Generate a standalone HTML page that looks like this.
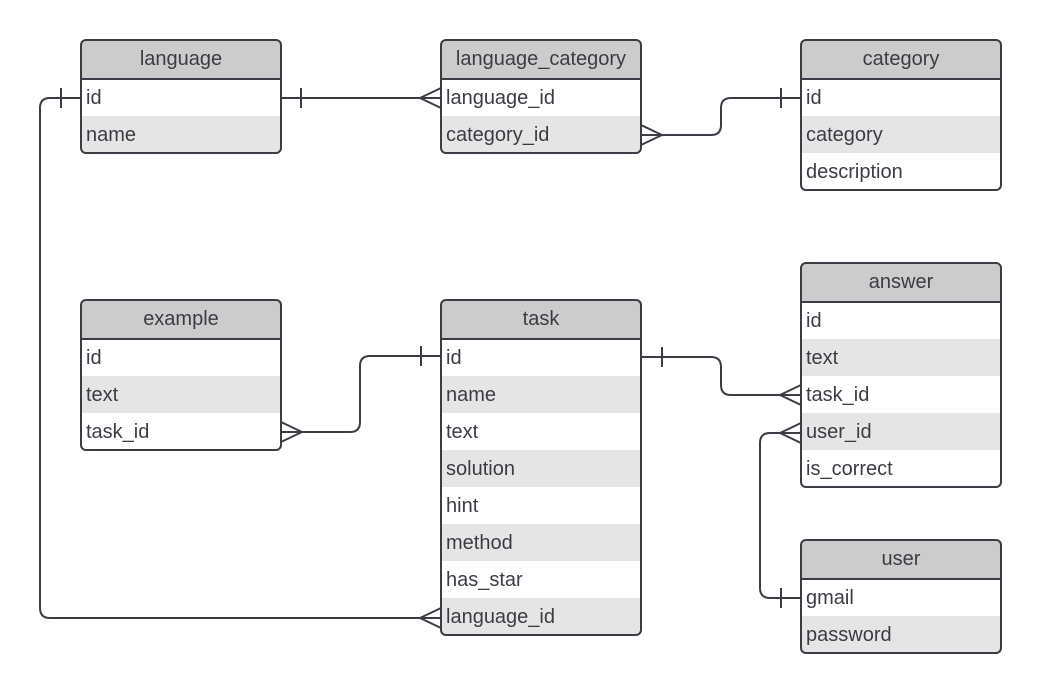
<!DOCTYPE html>
<html><head><meta charset="utf-8"><style>
html,body{margin:0;padding:0;background:#fff;}
svg{display:block;}
text{font-family:"Liberation Sans",Arial,sans-serif;font-size:20px;fill:#3a3d44;}
.h{text-anchor:middle;}
</style></head><body>
<svg width="1041" height="694" viewBox="0 0 1041 694" xmlns="http://www.w3.org/2000/svg">
<defs>
<clipPath id="c1"><rect x="81" y="40" width="200" height="113" rx="5"/></clipPath>
<clipPath id="c2"><rect x="441" y="40" width="200" height="113" rx="5"/></clipPath>
<clipPath id="c3"><rect x="801" y="40" width="200" height="150" rx="5"/></clipPath>
<clipPath id="c4"><rect x="81" y="300" width="200" height="150" rx="5"/></clipPath>
<clipPath id="c5"><rect x="441" y="300" width="200" height="335" rx="5"/></clipPath>
<clipPath id="c6"><rect x="801" y="263" width="200" height="224" rx="5"/></clipPath>
<clipPath id="c7"><rect x="801" y="540" width="200" height="113" rx="5"/></clipPath>
</defs>
<g fill="none" stroke="#3a3d44" stroke-width="2">
<!-- connectors -->
<path d="M281 98 H441"/><path d="M301 88 V108"/><path d="M420 98 L441 88 M420 98 L441 108"/>
<path d="M801 98 H731 Q721 98 721 108 V125 Q721 135 711 135 H641"/><path d="M781 88 V108"/><path d="M662 135 L641 125 M662 135 L641 145"/>
<path d="M81 98 H50 Q40 98 40 108 V608 Q40 618 50 618 H441"/><path d="M61 88 V108"/><path d="M420 618 L441 608 M420 618 L441 628"/>
<path d="M281 432 H350 Q360 432 360 422 V366 Q360 356 370 356 H441"/><path d="M421 346 V366"/><path d="M302 432 L281 422 M302 432 L281 442"/>
<path d="M641 357 H711 Q721 357 721 367 V385 Q721 395 731 395 H801"/><path d="M662 347 V367"/><path d="M780 395 L801 385 M780 395 L801 405"/>
<path d="M801 433 H770 Q760 433 760 443 V588 Q760 598 770 598 H801"/><path d="M781 588 V608"/><path d="M780 433 L801 423 M780 433 L801 443"/>
</g>

<!-- language -->
<g clip-path="url(#c1)"><rect x="81" y="40" width="200" height="39" fill="#cccccc"/><rect x="81" y="79" width="200" height="37" fill="#fff"/><rect x="81" y="116" width="200" height="37" fill="#e5e5e5"/></g>
<rect x="81" y="40" width="200" height="113" rx="5" fill="none" stroke="#3a3d44" stroke-width="2"/><path d="M81 79 H281" stroke="#3a3d44" stroke-width="2"/>
<text class="h" x="181" y="65">language</text><text x="86" y="104">id</text><text x="86" y="141">name</text>

<!-- language_category -->
<g clip-path="url(#c2)"><rect x="441" y="40" width="200" height="39" fill="#cccccc"/><rect x="441" y="79" width="200" height="37" fill="#fff"/><rect x="441" y="116" width="200" height="37" fill="#e5e5e5"/></g>
<rect x="441" y="40" width="200" height="113" rx="5" fill="none" stroke="#3a3d44" stroke-width="2"/><path d="M441 79 H641" stroke="#3a3d44" stroke-width="2"/>
<text class="h" x="541" y="65">language_category</text><text x="446" y="104">language_id</text><text x="446" y="141">category_id</text>

<!-- category -->
<g clip-path="url(#c3)"><rect x="801" y="40" width="200" height="39" fill="#cccccc"/><rect x="801" y="79" width="200" height="37" fill="#fff"/><rect x="801" y="116" width="200" height="37" fill="#e5e5e5"/><rect x="801" y="153" width="200" height="37" fill="#fff"/></g>
<rect x="801" y="40" width="200" height="150" rx="5" fill="none" stroke="#3a3d44" stroke-width="2"/><path d="M801 79 H1001" stroke="#3a3d44" stroke-width="2"/>
<text class="h" x="901" y="65">category</text><text x="806" y="104">id</text><text x="806" y="141">category</text><text x="806" y="178">description</text>

<!-- example -->
<g clip-path="url(#c4)"><rect x="81" y="300" width="200" height="39" fill="#cccccc"/><rect x="81" y="339" width="200" height="37" fill="#fff"/><rect x="81" y="376" width="200" height="37" fill="#e5e5e5"/><rect x="81" y="413" width="200" height="37" fill="#fff"/></g>
<rect x="81" y="300" width="200" height="150" rx="5" fill="none" stroke="#3a3d44" stroke-width="2"/><path d="M81 339 H281" stroke="#3a3d44" stroke-width="2"/>
<text class="h" x="181" y="325">example</text><text x="86" y="364">id</text><text x="86" y="401">text</text><text x="86" y="438">task_id</text>

<!-- task -->
<g clip-path="url(#c5)"><rect x="441" y="300" width="200" height="39" fill="#cccccc"/>
<rect x="441" y="339" width="200" height="37" fill="#fff"/><rect x="441" y="376" width="200" height="37" fill="#e5e5e5"/>
<rect x="441" y="413" width="200" height="37" fill="#fff"/><rect x="441" y="450" width="200" height="37" fill="#e5e5e5"/>
<rect x="441" y="487" width="200" height="37" fill="#fff"/><rect x="441" y="524" width="200" height="37" fill="#e5e5e5"/>
<rect x="441" y="561" width="200" height="37" fill="#fff"/><rect x="441" y="598" width="200" height="37" fill="#e5e5e5"/></g>
<rect x="441" y="300" width="200" height="335" rx="5" fill="none" stroke="#3a3d44" stroke-width="2"/><path d="M441 339 H641" stroke="#3a3d44" stroke-width="2"/>
<text class="h" x="541" y="325">task</text><text x="446" y="364">id</text><text x="446" y="401">name</text><text x="446" y="438">text</text><text x="446" y="475">solution</text><text x="446" y="512">hint</text><text x="446" y="549">method</text><text x="446" y="586">has_star</text><text x="446" y="623">language_id</text>

<!-- answer -->
<g clip-path="url(#c6)"><rect x="801" y="263" width="200" height="39" fill="#cccccc"/>
<rect x="801" y="302" width="200" height="37" fill="#fff"/><rect x="801" y="339" width="200" height="37" fill="#e5e5e5"/>
<rect x="801" y="376" width="200" height="37" fill="#fff"/><rect x="801" y="413" width="200" height="37" fill="#e5e5e5"/>
<rect x="801" y="450" width="200" height="37" fill="#fff"/></g>
<rect x="801" y="263" width="200" height="224" rx="5" fill="none" stroke="#3a3d44" stroke-width="2"/><path d="M801 302 H1001" stroke="#3a3d44" stroke-width="2"/>
<text class="h" x="901" y="288">answer</text><text x="806" y="327">id</text><text x="806" y="364">text</text><text x="806" y="401">task_id</text><text x="806" y="438">user_id</text><text x="806" y="475">is_correct</text>

<!-- user -->
<g clip-path="url(#c7)"><rect x="801" y="540" width="200" height="39" fill="#cccccc"/><rect x="801" y="579" width="200" height="37" fill="#fff"/><rect x="801" y="616" width="200" height="37" fill="#e5e5e5"/></g>
<rect x="801" y="540" width="200" height="113" rx="5" fill="none" stroke="#3a3d44" stroke-width="2"/><path d="M801 579 H1001" stroke="#3a3d44" stroke-width="2"/>
<text class="h" x="901" y="565">user</text><text x="806" y="604">gmail</text><text x="806" y="641">password</text>
</svg>
</body></html>
